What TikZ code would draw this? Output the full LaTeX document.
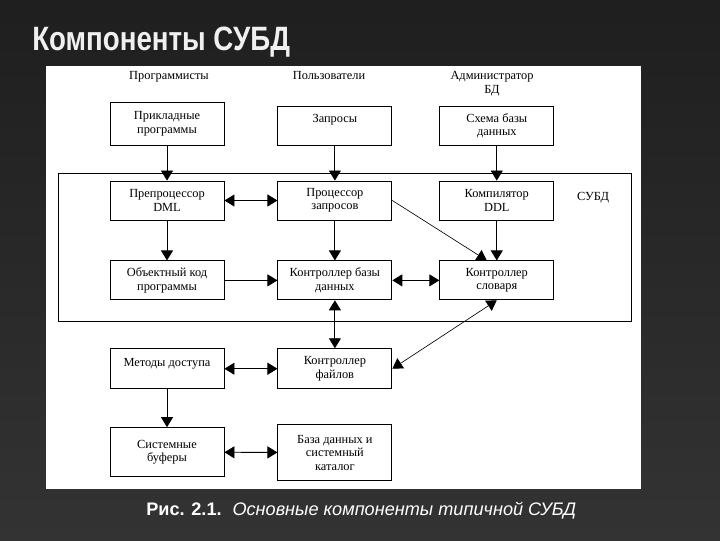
\documentclass[tikz,border=0pt]{standalone}
\usepackage{fontspec}
\setmainfont{Liberation Serif}
\setsansfont{Liberation Sans}
\usetikzlibrary{arrows.meta,positioning}

\begin{document}
\begin{tikzpicture}[
  x=0.025cm, y=-0.025cm,
  node distance=0.875cm and 1.325cm,
  every node/.style={align=center, font=\fontsize{8.8}{9.6}\selectfont},
  box/.style={draw, line width=0.6pt, minimum width=2.85cm, minimum height=0.975cm, fill=white},
  arrow/.style={-{Triangle[length=0.25cm, width=0.3cm]}, line width=0.6pt},
  darrow/.style={{Triangle[length=0.25cm, width=0.3cm]}-{Triangle[length=0.25cm, width=0.3cm]}, line width=0.6pt},
  slant/.style={line width=0.45pt}
]
  \useasboundingbox (0,0) rectangle (720,540);
  \shade[top color=black!88, bottom color=black!80] (0,0) rectangle (720,540);
  \fill[white] (46,66) rectangle (641,489);

  % Title and caption
  \node[anchor=base west, inner sep=0pt, text=black!6, font=\sffamily\bfseries\fontsize{24}{28}\selectfont] (title) at (32,50) {\scalebox{0.82}[1]{Компоненты СУБД}};
  \node[anchor=base west, inner sep=0pt, text=white, font=\sffamily\fontsize{12.9}{14}\selectfont] (caption) at (146,515) {\textbf{Рис. 2.1.}\hspace{0.6em}\textit{Основные компоненты типичной СУБД}};

  % DBMS frame
  \draw[line width=0.6pt] (58,173) rectangle (631,321);
  \node (dbms) at (593,198) {СУБД};

  % Row 2 (inside DBMS)
  \node[box] (dmlpre) at (167,200.5) {Препроцессор\\DML};
  \node[box, right=of dmlpre] (qproc) {Процессор\\запросов};
  \node[box, right=1.175cm of qproc] (ddlcomp) {Компилятор\\DDL};

  % Row 1 (sources)
  \node[box, minimum height=1.075cm, above=of dmlpre] (apps) {Прикладные\\программы};
  \node[box, above=of qproc] (queries) {Запросы\\~};
  \node[box, above=of ddlcomp] (schema) {Схема базы\\данных};

  % Headers
  \node[anchor=base] (prog) at (169,79) {Программисты};
  \node[anchor=base] (users) at (329,79) {Пользователи};
  \node (admin) at (492,83.5) {Администратор\\БД};

  % Row 3
  \node[box, below=1cm of dmlpre] (objcode) {Объектный код\\программы};
  \node[box, below=1cm of qproc] (dbctl) {Контроллер базы\\данных};
  \node[box, below=1cm of ddlcomp] (dictctl) {Контроллер\\словаря};

  % Rows 4 and 5 (outside DBMS)
  \node[box, minimum height=1cm, below=1.2cm of objcode] (access) {Методы доступа\\~};
  \node[box, minimum height=1cm, below=1.2cm of dbctl] (filectl) {Контроллер\\файлов};
  \node[box, minimum height=1.225cm, below=0.95cm of access] (buffers) {Системные\\буферы};
  \node[box, minimum height=1.4cm, below=0.875cm of filectl] (dbcat) {База данных и\\системный\\каталог};

  \draw[arrow] (apps) -- (dmlpre);
  \draw[arrow] (queries) -- (qproc);
  \draw[arrow] (schema) -- (ddlcomp);
  \draw[darrow] (dmlpre) -- (qproc);
  \draw[arrow] (dmlpre) -- (objcode);
  \draw[arrow] (qproc) -- (dbctl);
  \draw[arrow] (ddlcomp) -- (dictctl);
  \draw[arrow, slant] (qproc.east) -- ([xshift=-0.25cm]dictctl.north);
  \draw[arrow] (objcode) -- (dbctl);
  \draw[darrow] (dbctl) -- (dictctl);
  \draw[darrow] (dbctl) -- (filectl);
  \draw[darrow, slant] (dictctl.south) -- (filectl.east);
  \draw[darrow] (access) -- (filectl);
  \draw[arrow] (access) -- (buffers);
  \draw[darrow] (buffers) -- (dbcat);
\end{tikzpicture}
\end{document}
